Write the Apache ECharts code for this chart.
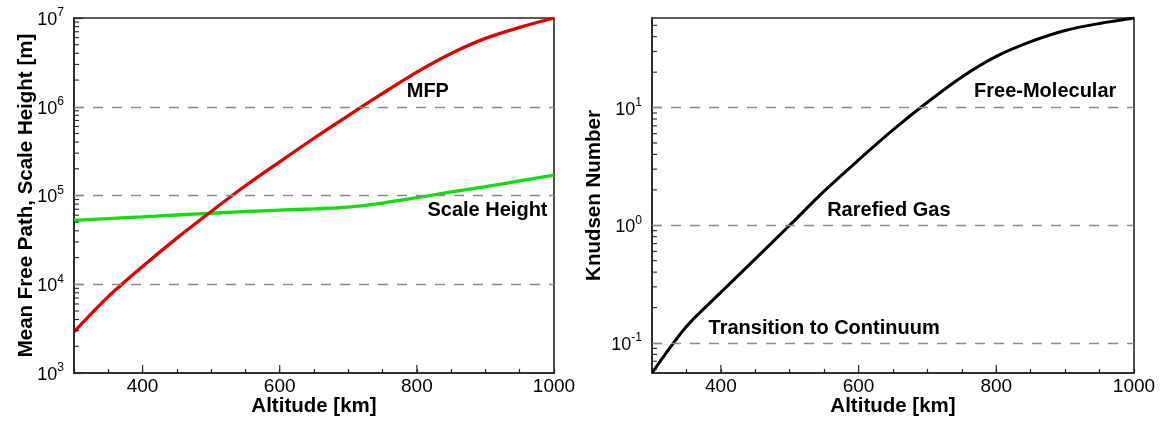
<!DOCTYPE html>
<html>
<head>
<meta charset="utf-8">
<script src="https://cdn.jsdelivr.net/npm/echarts@6/dist/echarts.min.js"></script>
<style>
html,body{margin:0;padding:0;background:#fff;}
#c{width:1163px;height:421px;}
</style>
</head>
<body>
<div id="c"></div>
<script>
// ---- data ----
const ALTITUDE = [300, 350, 400, 450, 500, 550, 600, 650, 700, 750, 800, 850, 900, 950, 1000];
const MFP = [2900, 7250, 15850, 33100, 66100, 128800, 239900, 441600, 794300, 1413000, 2455000, 3981000, 5888000, 7852000, 10000000];
const SCALE_HEIGHT = [52500, 55000, 57500, 60300, 63100, 66000, 68400, 70800, 74100, 82200, 94400, 109600, 125900, 146200, 169800];
const KNUDSEN = [0.0556, 0.138, 0.269, 0.519, 1.0, 1.95, 3.59, 6.46, 11.09, 18.2, 27.2, 36.3, 45.2, 51.9, 57.7];

const X_MIN = 300, X_MAX = 1000;
const LEFT_Y_RANGE = [1e3, 1e7];
const RIGHT_Y_RANGE = [0.0556, 57.7];
const LEFT_GRID_VALUES = [1e4, 1e5, 1e6];
const RIGHT_GRID_VALUES = [0.1, 1, 10];
const X_LABEL_VALUES = [400, 600, 800, 1000];
const X_MAJOR_TICKS = [400, 600, 800];
const LEFT_MINOR = [2e3,3e3,4e3,5e3,6e3,7e3,8e3,9e3,2e4,3e4,4e4,5e4,6e4,7e4,8e4,9e4,2e5,3e5,4e5,5e5,6e5,7e5,8e5,9e5,2e6,3e6,4e6,5e6,6e6,7e6,8e6,9e6];
const RIGHT_MINOR = [0.06,0.07,0.08,0.09,0.2,0.3,0.4,0.5,0.6,0.7,0.8,0.9,2,3,4,5,6,7,8,9,20,30,40,50];

const LEFT_NOTES = [{text: 'MFP', alt: 816, val: 1.475e6}, {text: 'Scale Height', alt: 903, val: 6.75e4}];
const RIGHT_NOTES = [{text: 'Free-Molecular', alt: 871, val: 13.6}, {text: 'Rarefied Gas', alt: 644, val: 1.34}, {text: 'Transition to Continuum', alt: 550, val: 0.132}];

// ---- chart ----
const FONT = "'Liberation Sans', Arial, Helvetica, sans-serif";
const AX = '#262626';
const chart = echarts.init(document.getElementById('c'), null, {renderer: 'canvas'});

function pairs(ys) { return ALTITUDE.map((a, i) => [a, ys[i]]); }

function xAxis(gi) {
  return {
    type: 'value', gridIndex: gi, min: X_MIN, max: X_MAX, interval: 50,
    name: 'Altitude [km]', nameLocation: 'middle', nameGap: 23, nameMoveOverlap: false,
    nameTextStyle: {fontFamily: FONT, fontSize: 20.5, fontWeight: 'bold', color: '#000'},
    axisLine: {show: true, lineStyle: {color: AX, width: 1.6}},
    axisTick: {show: true, inside: true, length: 4, lineStyle: {color: AX, width: 1.2}},
    axisLabel: {
      margin: 4, fontFamily: FONT, fontSize: 19, color: '#000', hideOverlap: false,
      formatter: v => X_LABEL_VALUES.indexOf(v) >= 0 ? String(v) : ''
    },
    splitLine: {show: false}
  };
}

function yAxis(gi, range, name, gap, showEnds) {
  return {
    type: 'log', logBase: 10, gridIndex: gi, min: range[0], max: range[1],
    name: name, nameLocation: 'middle', nameGap: gap, nameMoveOverlap: false,
    nameTextStyle: {fontFamily: FONT, fontSize: 20.5, fontWeight: 'bold', color: '#000'},
    axisLine: {show: true, lineStyle: {color: AX, width: 1.6}},
    axisTick: {show: true, inside: true, length: 9, lineStyle: {color: AX, width: 1.2}},
    axisLabel: {
      margin: 10, showMinLabel: showEnds, showMaxLabel: showEnds, hideOverlap: false,
      formatter: v => {
        const e = Math.round(Math.log10(v));
        if (Math.abs(Math.log10(v) - e) > 1e-6) return '';
        return '{b|10}{s|' + (e < 0 ? '-' + (-e) : e) + '}';
      },
      rich: {
        b: {fontFamily: FONT, fontSize: 18, color: '#000', lineHeight: 22, verticalAlign: 'bottom'},
        s: {fontFamily: FONT, fontSize: 12, color: '#000', lineHeight: 22, verticalAlign: 'top'}
      }
    },
    splitLine: {show: false}
  };
}

function gridLines(gi, values) {
  return {
    type: 'line', xAxisIndex: gi, yAxisIndex: gi, data: [], z: 1, silent: true,
    markLine: {
      silent: true, symbol: ['none', 'none'], animation: false,
      label: {show: false},
      lineStyle: {type: [10, 9], color: '#8a8a8a', width: 1.3},
      data: values.map(v => ({yAxis: v}))
    }
  };
}

function yMinorTicks(gi, values) {
  return {
    type: 'custom', xAxisIndex: gi, yAxisIndex: gi, silent: true, z: 6, animation: false,
    data: values.map(v => [X_MIN, v]),
    renderItem: (params, api) => {
      const p = api.coord([api.value(0), api.value(1)]);
      const cs = params.coordSys;
      return {type: 'line', shape: {x1: cs.x, y1: p[1], x2: cs.x + 5, y2: p[1]},
              style: {stroke: AX, lineWidth: 1.1}};
    }
  };
}

function xMajorTicks(gi, yMin) {
  return {
    type: 'custom', xAxisIndex: gi, yAxisIndex: gi, silent: true, z: 6, animation: false,
    data: X_MAJOR_TICKS.map(v => [v, yMin]),
    renderItem: (params, api) => {
      const p = api.coord([api.value(0), api.value(1)]);
      const cs = params.coordSys;
      const yb = cs.y + cs.height;
      return {type: 'line', shape: {x1: p[0], y1: yb, x2: p[0], y2: yb - 8},
              style: {stroke: AX, lineWidth: 1.2}};
    }
  };
}

function notes(list) {
  return {
    symbol: 'circle', symbolSize: 0, animation: false, silent: true,
    label: {show: true, position: 'inside', fontFamily: FONT, fontSize: 20, fontWeight: 'bold', color: '#000', formatter: '{b}'},
    data: list.map(n => ({name: n.text, coord: [n.alt, n.val]}))
  };
}

const gridBase = {show: true, borderColor: AX, borderWidth: 1.6, backgroundColor: 'transparent', containLabel: false, outerBoundsMode: 'none'};

const option = {
  backgroundColor: '#fff',
  animation: false,
  grid: [
    Object.assign({left: 74, top: 18, width: 480, height: 355}, gridBase),
    Object.assign({left: 652, top: 18, width: 482, height: 355}, gridBase)
  ],
  xAxis: [xAxis(0), xAxis(1)],
  yAxis: [
    yAxis(0, LEFT_Y_RANGE, 'Mean Free Path, Scale Height [m]', 37, true),
    yAxis(1, RIGHT_Y_RANGE, 'Knudsen Number', 47, false)
  ],
  series: [
    gridLines(0, LEFT_GRID_VALUES),
    gridLines(1, RIGHT_GRID_VALUES),
    {
      name: 'Scale Height', type: 'line', xAxisIndex: 0, yAxisIndex: 0, z: 3,
      data: pairs(SCALE_HEIGHT), showSymbol: false, smooth: 0.3,
      lineStyle: {color: '#11dd11', width: 3.3}, itemStyle: {color: '#11dd11'},
      markPoint: notes([LEFT_NOTES[1]])
    },
    {
      name: 'MFP', type: 'line', xAxisIndex: 0, yAxisIndex: 0, z: 4,
      data: pairs(MFP), showSymbol: false, smooth: 0.3,
      lineStyle: {color: '#dd0000', width: 3.3}, itemStyle: {color: '#dd0000'},
      markPoint: notes([LEFT_NOTES[0]])
    },
    {
      name: 'Knudsen Number', type: 'line', xAxisIndex: 1, yAxisIndex: 1, z: 4,
      data: pairs(KNUDSEN), showSymbol: false, smooth: 0.3,
      lineStyle: {color: '#000', width: 3}, itemStyle: {color: '#000'},
      markPoint: notes(RIGHT_NOTES)
    },
    yMinorTicks(0, LEFT_MINOR),
    yMinorTicks(1, RIGHT_MINOR),
    xMajorTicks(0, LEFT_Y_RANGE[0]),
    xMajorTicks(1, RIGHT_Y_RANGE[0])
  ]
};
chart.setOption(option);
</script>
</body>
</html>
